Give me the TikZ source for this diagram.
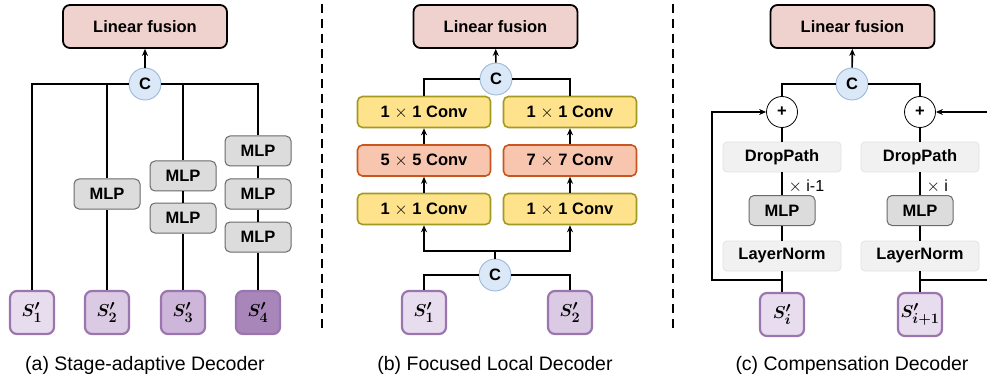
\documentclass[tikz,border=0pt]{standalone}
\usepackage{amsmath,bm}
\usepackage{fontspec}
\setmainfont{Liberation Sans}
\usetikzlibrary{arrows.meta}

\definecolor{fusefill}{HTML}{EFD2CE}
\definecolor{catfill}{HTML}{DAE8F7}
\definecolor{catline}{HTML}{9DB9D8}
\definecolor{mlpfill}{HTML}{DCDCDC}
\definecolor{mlpline}{HTML}{6A6A6A}
\definecolor{convfill}{HTML}{FFE38C}
\definecolor{convline}{HTML}{A39A22}
\definecolor{kernfill}{HTML}{F8C6AE}
\definecolor{kernline}{HTML}{C9551F}
\definecolor{normfill}{HTML}{F1F1F1}
\definecolor{normline}{HTML}{E2E2E2}
\definecolor{featline}{HTML}{9B76AE}
\definecolor{featA}{HTML}{E8DDEE}
\definecolor{featB}{HTML}{DBCAE3}
\definecolor{featC}{HTML}{CDB6D9}
\definecolor{featD}{HTML}{A886B9}

\tikzset{
  boldtxt/.style={font=\fontsize{16.5}{18}\selectfont\bfseries},
  fusebox/.style={boldtxt, draw=black, line width=1.8pt, fill=fusefill, rounded corners=7pt,
    minimum width=164pt, minimum height=43pt, inner sep=0pt},
  catnode/.style={boldtxt, circle, draw=catline, line width=0.9pt, fill=catfill,
    minimum size=32pt, inner sep=0pt},
  addnode/.style={boldtxt, circle, draw=black, line width=0.8pt, fill=white,
    minimum size=31pt, inner sep=0pt},
  mlpbox/.style={boldtxt, draw=mlpline, line width=1pt, fill=mlpfill, rounded corners=5pt,
    minimum width=66pt, minimum height=30pt, inner sep=0pt},
  convbox/.style={boldtxt, draw=convline, line width=1.6pt, fill=convfill, rounded corners=5pt,
    minimum width=133pt, minimum height=31pt, inner sep=0pt},
  kernbox/.style={convbox, draw=kernline, fill=kernfill},
  normbox/.style={boldtxt, draw=normline, line width=0.8pt, fill=normfill, rounded corners=4pt,
    minimum width=118pt, minimum height=30pt, inner sep=0pt},
  featbox/.style={draw=featline, line width=2.2pt, rounded corners=7pt,
    minimum width=44pt, minimum height=43pt, inner sep=0pt,
    font=\fontsize{19}{20}\selectfont},
  link/.style={line width=1.6pt},
  arr/.style={link, -{Stealth[length=7pt,width=6pt]}},
  caption/.style={font=\fontsize{19.5}{22}\selectfont},
  sep/.style={line width=1.8pt, dash pattern=on 9pt off 6pt}
}

\begin{document}
\begin{tikzpicture}[x=1pt, y=-1pt]
\useasboundingbox (0,0) rectangle (987,382);

% (a) stage-adaptive decoder
\node[fusebox] (fuseA) at (145,26.5) {Linear fusion};
\node[catnode] (catA) at (145,84) {C};
\draw[arr] (catA) -- (fuseA);
\foreach \i/\x/\c in {1/32/featA, 2/107/featB, 3/183/featC, 4/258/featD}
  \node[featbox, fill=\c] (sA\i) at (\x,312.5) {$\bm{S'_{\i}}$};
\node[mlpbox] (mA2) at (107,194) {MLP};
\node[mlpbox] (mA3a) at (183,176) {MLP};
\node[mlpbox] (mA3b) at (183,218) {MLP};
\node[mlpbox] (mA4a) at (258,151) {MLP};
\node[mlpbox] (mA4b) at (258,194) {MLP};
\node[mlpbox] (mA4c) at (258,237) {MLP};
\draw[link] (catA.west) -| (sA1.north);
\draw[link] (catA.west) -| (mA2.north);
\draw[link] (catA.east) -| (mA3a.north);
\draw[link] (catA.east) -| (mA4a.north);
\draw[link] (sA2) -- (mA2);
\draw[link] (sA3) -- (mA3b) -- (mA3a);
\draw[link] (sA4) -- (mA4c) -- (mA4b) -- (mA4a);
\node[caption] (capA) at (145,365) {(a) Stage-adaptive Decoder};

\draw[sep] (322,4) -- (322,332);

% (b) focused local decoder
\node[fusebox] (fuseB) at (495.5,26.5) {Linear fusion};
\node[catnode] (catB) at (496,79) {C};
\draw[arr] (catB) -- (fuseB);
\node[convbox] (topL) at (424,112) {1 $\times$ 1 Conv};
\node[convbox] (topR) at (570,112) {1 $\times$ 1 Conv};
\node[kernbox] (midL) at (424,160.5) {5 $\times$ 5 Conv};
\node[kernbox] (midR) at (570,160.5) {7 $\times$ 7 Conv};
\node[convbox] (botL) at (424,209) {1 $\times$ 1 Conv};
\node[convbox] (botR) at (570,209) {1 $\times$ 1 Conv};
\draw[link] (catB.west) -| (topL.north);
\draw[link] (catB.east) -| (topR.north);
\draw[arr] (midL) -- (topL);
\draw[arr] (midR) -- (topR);
\draw[arr] (botL) -- (midL);
\draw[arr] (botR) -- (midR);
\node[catnode] (catB2) at (495,275) {C};
\coordinate (splitB) at (495,251);
\draw[link] (catB2) -- (splitB);
\draw[arr] (splitB) -| (botL);
\draw[arr] (splitB) -| (botR);
\node[featbox, fill=featA] (sB1) at (424,312.5) {$\bm{S'_1}$};
\node[featbox, fill=featB] (sB2) at (570,312.5) {$\bm{S'_2}$};
\draw[link] (catB2.west) -| (sB1.north);
\draw[link] (catB2.east) -| (sB2.north);
\node[caption] (capB) at (495,365) {(b) Focused Local Decoder};

\draw[sep] (673,4) -- (673,332);

% (c) compensation decoder
\node[fusebox] (fuseC) at (852.5,26.5) {Linear fusion};
\node[catnode] (catC) at (852,84) {C};
\draw[arr] (catC) -- (fuseC);
\node[addnode] (addL) at (782,112) {+};
\node[addnode] (addR) at (920,112) {+};
\draw[link] (catC.west) -| (addL.north);
\draw[link] (catC.east) -| (addR.north);
\node[normbox] (dropL) at (782,157) {DropPath};
\node[normbox] (dropR) at (920,157) {DropPath};
\node[mlpbox] (mC1) at (782,210.5) {MLP};
\node[mlpbox] (mC2) at (920,210.5) {MLP};
\node[normbox] (lnL) at (782,256) {LayerNorm};
\node[normbox] (lnR) at (920,256) {LayerNorm};
\node[featbox, fill=featA] (sC1) at (782,314.5) {$\bm{S'_i}$};
\node[featbox, fill=featA] (sC2) at (920,314.5) {$\bm{S'_{i+1}}$};
\draw[link] (sC1) -- (lnL) -- (mC1) -- (dropL) -- (addL);
\draw[link] (sC2) -- (lnR) -- (mC2) -- (dropR) -- (addR);
\node[anchor=west, font=\fontsize{16}{18}\selectfont] (repL) at (785,186) {$\times$ i-1};
\node[anchor=west, font=\fontsize{16}{18}\selectfont] (repR) at (923,186) {$\times$ i};
\coordinate (tapL) at (782,280);
\coordinate (bendL1) at (712,280);
\coordinate (bendL2) at (712,112);
\draw[arr] (tapL) -- (bendL1) -- (bendL2) -- (addL.west);
\coordinate (tapR) at (920,280);
\coordinate (edgeR1) at (987,280);
\coordinate (edgeR2) at (987,112);
\draw[link] (tapR) -- (edgeR1);
\draw[arr] (edgeR2) -- (addR.east);
\node[caption] (capC) at (852,365) {(c) Compensation Decoder};
\end{tikzpicture}
\end{document}
